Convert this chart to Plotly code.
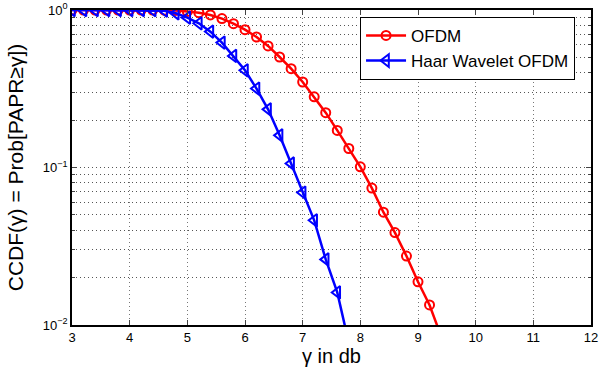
import plotly.graph_objects as go

gamma_ofdm = [3.0, 3.2, 3.4, 3.6, 3.8, 4.0, 4.2, 4.4, 4.6, 4.8, 5.0, 5.2, 5.4, 5.6, 5.8, 6.0,
              6.2, 6.4, 6.6, 6.8, 7.0, 7.2, 7.4, 7.6, 7.8, 8.0, 8.2, 8.4, 8.6, 8.8, 9.0, 9.2, 9.4]
ccdf_ofdm = [1.0, 1.0, 1.0, 1.0, 1.0, 1.0, 1.0, 1.0, 0.998, 0.993, 0.98, 0.962, 0.930, 0.882,
             0.819, 0.750, 0.674, 0.591, 0.503, 0.424, 0.349, 0.281, 0.223, 0.172, 0.132, 0.101,
             0.074, 0.052, 0.0386, 0.0274, 0.0188, 0.0134, 0.0085]

gamma_haar = [3.0, 3.2, 3.4, 3.6, 3.8, 4.0, 4.2, 4.4, 4.6, 4.8, 5.0, 5.2, 5.4, 5.6, 5.8, 6.0,
              6.2, 6.4, 6.6, 6.8, 7.0, 7.2, 7.4, 7.6, 7.8]
ccdf_haar = [1.0, 1.0, 1.0, 1.0, 1.0, 1.0, 1.0, 0.998, 0.99, 0.953, 0.894, 0.823, 0.729, 0.621,
             0.511, 0.414, 0.317, 0.234, 0.160, 0.106, 0.0693, 0.0462, 0.0261, 0.0161, 0.0077]

y_tickvals = [0.01, 0.1, 1]
y_ticktext = ["10<sup>−2</sup>", "10<sup>−1</sup>", "10<sup>0</sup>"]
x_tickvals = [3, 4, 5, 6, 7, 8, 9, 10, 11, 12]

minor_y = [k * 10 ** e for e in (-2, -1) for k in range(2, 10)]

fig = go.Figure()
fig.add_trace(go.Scatter(
    x=gamma_ofdm, y=ccdf_ofdm, name="OFDM", mode="lines+markers",
    line=dict(color="#ff0000", width=2.5),
    marker=dict(symbol="circle-open", size=9, color="#ff0000", line=dict(width=2, color="#ff0000")),
))
fig.add_trace(go.Scatter(
    x=gamma_haar, y=ccdf_haar, name="Haar Wavelet OFDM", mode="lines+markers",
    line=dict(color="#0000ff", width=2.5),
    marker=dict(symbol="triangle-left-open", size=11, color="#0000ff", line=dict(width=2, color="#0000ff")),
))

font = "Liberation Sans, Arial, sans-serif"
dotted = "1px,3px"
fig.update_layout(
    width=616, height=374,
    margin=dict(l=72, r=25, t=10, b=49),
    paper_bgcolor="white", plot_bgcolor="white",
    font=dict(family=font, color="black", size=13),
    showlegend=True,
    legend=dict(
        x=0.555, y=0.978, xanchor="left", yanchor="top",
        bgcolor="white", bordercolor="black", borderwidth=1,
        font=dict(size=17, family=font, color="black"),
        itemwidth=40, tracegroupgap=0,
    ),
    xaxis=dict(
        range=[3, 12], tickvals=x_tickvals, ticks="inside", ticklen=5,
        showline=True, linecolor="black", linewidth=1.5, mirror="allticks",
        showgrid=True, gridcolor="#777777", griddash=dotted, gridwidth=1,
        zeroline=False, tickfont=dict(size=13), automargin=False,
        title=dict(text="γ in db", font=dict(size=20), standoff=4),
    ),
    yaxis=dict(
        type="log", range=[-2, 0], tickvals=y_tickvals, ticktext=y_ticktext,
        ticks="inside", ticklen=5,
        showline=True, linecolor="black", linewidth=1.5, mirror="allticks",
        showgrid=True, gridcolor="#555555", griddash=dotted, gridwidth=1,
        zeroline=False, tickfont=dict(size=13), automargin=False,
        minor=dict(tickmode="array", tickvals=minor_y, ticks="inside", ticklen=3,
                   showgrid=True, gridcolor="#555555", griddash=dotted, gridwidth=1),
        title=dict(text="CCDF(γ) = Prob[PAPR≥γ])", font=dict(size=21), standoff=13),
    ),
)

fig.write_html("out.html", config={"displayModeBar": False},
               post_script="document.body.style.margin='0';")
